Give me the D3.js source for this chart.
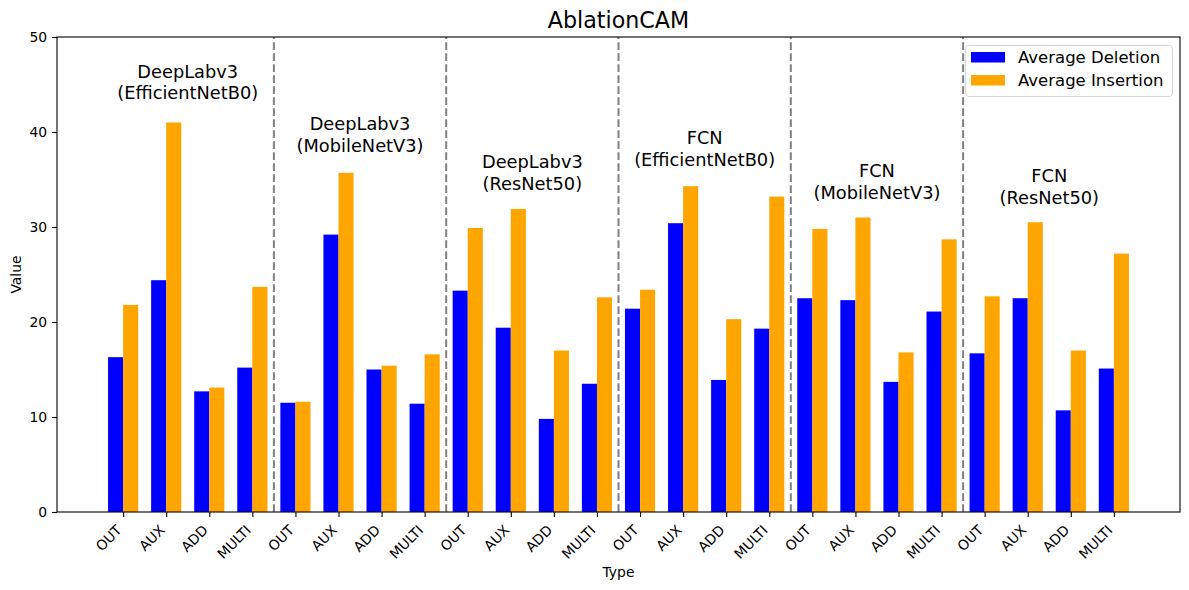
<!DOCTYPE html>
<html>
<head>
<meta charset="utf-8">
<script src="https://cdn.jsdelivr.net/npm/d3@7"></script>
<style>
  body { margin: 0; background: #fff; }
  svg { font-family: "DejaVu Sans", sans-serif; }
</style>
</head>
<body>
<div id="chart"></div>
<script>
// Values.
const types = ['OUT', 'AUX', 'ADD', 'MULTI'];
const models = [
  ['DeepLabv3', '(EfficientNetB0)'],
  ['DeepLabv3', '(MobileNetV3)'],
  ['DeepLabv3', '(ResNet50)'],
  ['FCN', '(EfficientNetB0)'],
  ['FCN', '(MobileNetV3)'],
  ['FCN', '(ResNet50)'],
];
const deletion = [16.3, 24.4, 12.7, 15.2, 11.5, 29.2, 15.0, 11.4,
  23.3, 19.4, 9.8, 13.5, 21.4, 30.4, 13.9, 19.3,
  22.5, 22.3, 13.7, 21.1, 16.7, 22.5, 10.7, 15.1];
const insertion = [21.8, 41.0, 13.1, 23.7, 11.6, 35.7, 15.4, 16.6,
  29.9, 31.9, 17.0, 22.6, 23.4, 34.3, 20.3, 33.2,
  29.8, 31.0, 16.8, 28.7, 22.7, 30.5, 17.0, 27.2];
const yTicks = [0, 10, 20, 30, 40, 50];
const seriesNames = ['Average Deletion', 'Average Insertion'];
const seriesColors = ['blue', 'orange'];

const width = 1189;
const height = 590;
const margin = {left: 57, right: 9, top: 37, bottom: 78};
const BAR_WIDTH = 0.35;

const labels = [];
models.forEach(() => types.forEach(t => labels.push(t)));
const n = labels.length;

// matplotlib style 5% margins around the bar extents
const lo = -BAR_WIDTH, hi = n - 1 + BAR_WIDTH;
const pad = (hi - lo) * 0.05;

const x = d3.scaleLinear()
  .domain([lo - pad, hi + pad])
  .range([margin.left, width - margin.right]);
const y = d3.scaleLinear()
  .domain([0, 50])
  .range([height - margin.bottom, margin.top]);

const svg = d3.select('#chart')
  .append('svg')
  .attr('width', width)
  .attr('height', height);

// Bars
const rows = labels.map((t, i) => ({i, del: deletion[i], ins: insertion[i]}));
svg.append('g')
  .selectAll('rect.del')
  .data(rows)
  .enter()
  .append('rect')
  .attr('x', d => x(d.i - BAR_WIDTH))
  .attr('width', d => x(d.i) - x(d.i - BAR_WIDTH))
  .attr('y', d => y(d.del))
  .attr('height', d => y(0) - y(d.del))
  .attr('fill', seriesColors[0]);
svg.append('g')
  .selectAll('rect.ins')
  .data(rows)
  .enter()
  .append('rect')
  .attr('x', d => x(d.i))
  .attr('width', d => x(d.i + BAR_WIDTH) - x(d.i))
  .attr('y', d => y(d.ins))
  .attr('height', d => y(0) - y(d.ins))
  .attr('fill', seriesColors[1]);

// Dashed separators between model groups
svg.append('g')
  .selectAll('line')
  .data(d3.range(1, models.length))
  .enter()
  .append('line')
  .attr('x1', g => x(g * types.length - 0.5))
  .attr('x2', g => x(g * types.length - 0.5))
  .attr('y1', y(0))
  .attr('y2', y(50))
  .attr('stroke', 'gray')
  .attr('stroke-width', 2)
  .attr('stroke-dasharray', '7.7,3.3');

// Group labels above the tallest bar of each group
svg.append('g')
  .selectAll('text')
  .data(models)
  .enter()
  .append('text')
  .attr('text-anchor', 'middle')
  .attr('font-size', '17.8px')
  .attr('fill', '#000')
  .each(function(m, g) {
    const s = g * types.length;
    const top = d3.max(deletion.slice(s, s + 4).concat(insertion.slice(s, s + 4)));
    const cx = x(s + 1.5);
    const base = y(top * 1.05) - 4;
    d3.select(this).append('tspan').attr('x', cx).attr('y', base - 21.5).text(m[0]);
    d3.select(this).append('tspan').attr('x', cx).attr('y', base).text(m[1]);
  });

// Axes
const xAxis = d3.axisBottom(x)
  .tickValues(d3.range(n))
  .tickFormat(i => labels[i])
  .tickSize(4.9)
  .tickSizeOuter(0);
const gx = svg.append('g')
  .attr('transform', `translate(0,${y(0)})`)
  .call(xAxis);
gx.select('.domain').remove();
gx.selectAll('text')
  .attr('font-size', '13.9px')
  .attr('font-family', '"DejaVu Sans", sans-serif')
  .attr('fill', '#000')
  .attr('text-anchor', 'end')
  .attr('y', 0)
  .attr('dy', 0)
  .attr('transform', 'translate(-1,19) rotate(-45)');

const yAxis = d3.axisLeft(y)
  .tickValues(yTicks)
  .tickSize(4.9)
  .tickPadding(4.9)
  .tickSizeOuter(0);
const gy = svg.append('g')
  .attr('transform', `translate(${margin.left},0)`)
  .call(yAxis);
gy.select('.domain').remove();
gy.selectAll('text')
  .attr('font-size', '13.9px')
  .attr('font-family', '"DejaVu Sans", sans-serif')
  .attr('fill', '#000');
svg.selectAll('.tick line').attr('stroke', '#000').attr('stroke-width', 1.1);

// Frame
svg.append('rect')
  .attr('x', x.range()[0])
  .attr('y', y(50))
  .attr('width', x.range()[1] - x.range()[0])
  .attr('height', y(0) - y(50))
  .attr('fill', 'none')
  .attr('stroke', '#000')
  .attr('stroke-width', 1.1);

// Titles
svg.append('text')
  .attr('x', (x.range()[0] + x.range()[1]) / 2)
  .attr('y', 28)
  .attr('text-anchor', 'middle')
  .attr('font-size', '22.2px')
  .text('AblationCAM');
svg.append('text')
  .attr('x', (x.range()[0] + x.range()[1]) / 2)
  .attr('y', 577)
  .attr('text-anchor', 'middle')
  .attr('font-size', '13.9px')
  .text('Type');
svg.append('text')
  .attr('transform', `translate(21,${(y(0) + y(50)) / 2}) rotate(-90)`)
  .attr('text-anchor', 'middle')
  .attr('font-size', '13.9px')
  .text('Value');

// Legend
const legend = svg.append('g').attr('transform', 'translate(965.5,45.5)');
legend.append('rect')
  .attr('width', 207)
  .attr('height', 51)
  .attr('rx', 3)
  .attr('fill', 'rgba(255,255,255,0.8)')
  .attr('stroke', '#d6d6d6')
  .attr('stroke-width', 1);
seriesNames.forEach((name, k) => {
  legend.append('rect')
    .attr('x', 5.5)
    .attr('y', 6.5 + k * 23)
    .attr('width', 34)
    .attr('height', 10.5)
    .attr('fill', seriesColors[k]);
  legend.append('text')
    .attr('x', 52.5)
    .attr('y', 17.8 + k * 23)
    .attr('font-size', '16.5px')
    .text(name);
});
</script>
</body>
</html>
